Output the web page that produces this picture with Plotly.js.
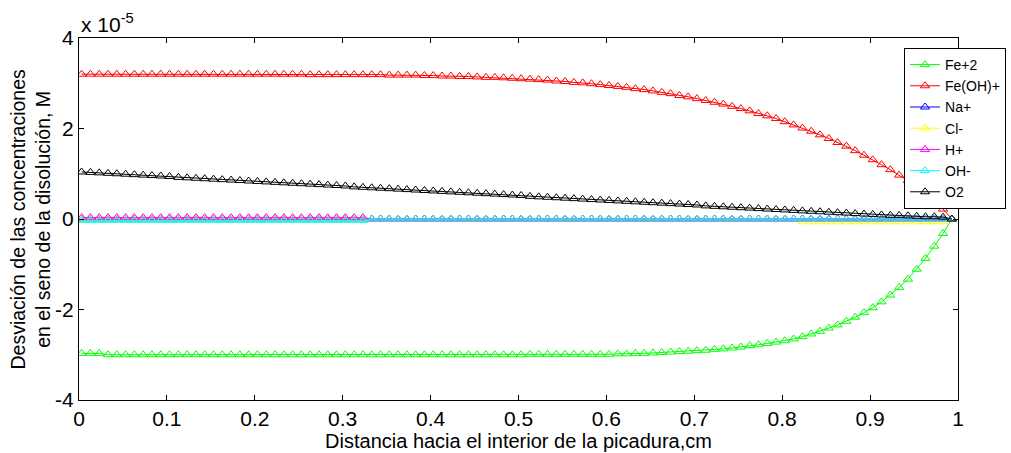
<!DOCTYPE html>
<html>
<head>
<meta charset="utf-8">
<script src="https://cdn.plot.ly/plotly-3.0.1.min.js"></script>
<style>
  html, body { margin: 0; padding: 0; background: #fff; }
  #chart { width: 1011px; height: 453px; }
</style>
</head>
<body>
<div id="chart"></div>
<script>
// Position along the pit (cm)
const distancia = [
  0.003,0.013,0.023,0.033,0.043,0.053,0.063,0.073,0.083,0.093,
  0.103,0.113,0.123,0.133,0.143,0.153,0.163,0.173,0.183,0.193,
  0.203,0.213,0.223,0.233,0.243,0.253,0.263,0.273,0.283,0.293,
  0.303,0.313,0.323,0.333,0.343,0.353,0.363,0.373,0.383,0.393,
  0.403,0.413,0.423,0.433,0.443,0.453,0.463,0.473,0.483,0.493,
  0.503,0.513,0.523,0.533,0.543,0.553,0.563,0.573,0.583,0.593,
  0.603,0.613,0.623,0.633,0.643,0.653,0.663,0.673,0.683,0.693,
  0.703,0.713,0.723,0.733,0.743,0.753,0.763,0.773,0.783,0.793,
  0.803,0.813,0.823,0.833,0.843,0.853,0.863,0.873,0.883,0.893,
  0.903,0.913,0.923,0.933,0.943,0.953,0.963,0.973,0.983,0.993
];

// Concentration deviations, in units of 1e-5 M
const fe2 = [
  -2.97,-2.97,-2.97,-3.00,-3.00,-3.00,-3.00,-3.00,-3.00,-3.00,
  -3.00,-3.00,-3.00,-3.00,-3.00,-3.00,-3.00,-3.00,-3.00,-3.00,
  -3.00,-3.00,-3.00,-3.00,-3.00,-3.00,-3.00,-3.00,-3.00,-3.00,
  -3.00,-3.00,-3.00,-3.00,-3.00,-3.00,-3.00,-3.00,-3.00,-3.00,
  -3.00,-3.00,-3.00,-3.00,-3.00,-3.00,-3.00,-3.00,-3.00,-3.00,
  -3.00,-2.99,-2.99,-2.99,-2.99,-2.99,-2.99,-2.99,-2.99,-2.99,
  -2.99,-2.98,-2.98,-2.97,-2.97,-2.96,-2.95,-2.94,-2.93,-2.92,
  -2.91,-2.90,-2.88,-2.87,-2.85,-2.83,-2.80,-2.78,-2.75,-2.72,
  -2.69,-2.65,-2.60,-2.54,-2.48,-2.41,-2.34,-2.26,-2.17,-2.07,
  -1.96,-1.83,-1.68,-1.51,-1.33,-1.11,-0.87,-0.60,-0.32,0.00
];
const feoh = [
  3.20,3.20,3.20,3.20,3.20,3.20,3.20,3.20,3.20,3.20,
  3.20,3.20,3.20,3.20,3.20,3.20,3.20,3.20,3.20,3.20,
  3.20,3.20,3.20,3.20,3.20,3.20,3.19,3.19,3.19,3.19,
  3.19,3.19,3.19,3.19,3.19,3.18,3.18,3.18,3.18,3.17,
  3.17,3.16,3.16,3.15,3.15,3.14,3.13,3.13,3.12,3.11,
  3.10,3.09,3.08,3.07,3.05,3.04,3.02,3.01,2.99,2.97,
  2.95,2.93,2.91,2.88,2.86,2.83,2.80,2.77,2.73,2.70,
  2.66,2.62,2.58,2.54,2.49,2.44,2.39,2.33,2.28,2.22,
  2.15,2.08,2.01,1.94,1.86,1.78,1.69,1.61,1.51,1.41,
  1.31,1.20,1.09,0.97,0.85,0.72,0.59,0.45,0.22,0.00
];
const na = [
  0,0,0,0,0,0,0,0,0,0, 0,0,0,0,0,0,0,0,0,0,
  0,0,0,0,0,0,0,0,0,0, 0,0,0,0,0,0,0,0,0,0,
  0,0,0,0,0,0,0,0,0,0, 0,0,0,0,0,0,0,0,0,0,
  0,0,0,0,0,0,0,0,0,0, 0,0,0,0,0,0,0,0,0,0,
  0,0,0,0,0,0,0,0,0,0, 0,0,0,0,0,0,0,0,0,0
];
const cl = [
  0,0,0,0,0,0,0,0,0,0, 0,0,0,0,0,0,0,0,0,0,
  0,0,0,0,0,0,0,0,0,0, 0,0,0,0,0,0,0,0,0,0,
  0,0,0,0,0,0,0,0,0,0, 0,0,0,0,0,0,0,0,0,0,
  0,0,0,0,0,0,0,0,0,0, 0,0,0,0,0,0,0,0,0,0,
  0,0,-0.06,-0.06,-0.06,-0.06,-0.06,-0.06,-0.06,-0.06,
  -0.06,-0.06,-0.06,-0.06,-0.06,-0.06,-0.06,-0.06,-0.06,0
];
const h = [
  0.03,0.03,0.03,0.03,0.03,0.03,0.03,0.03,0.03,0.03,
  0.03,0.03,0.03,0.03,0.03,0.03,0.03,0.03,0.03,0.03,
  0.03,0.03,0.03,0.03,0.03,0.03,0.03,0.03,0.03,0.03,
  0.03,0.03,0.03,0,0,0,0,0,0,0,
  0,0,0,0,0,0,0,0,0,0, 0,0,0,0,0,0,0,0,0,0,
  0,0,0,0,0,0,0,0,0,0, 0,0,0,0,0,0,0,0,0,0,
  0,0,0,0,0,0,0,0,0,0, 0,0,0,0,0,0,0,0,0,0
];
const oh = [
  -0.03,-0.03,-0.03,-0.03,-0.03,-0.03,-0.03,-0.03,-0.03,-0.03,
  -0.03,-0.03,-0.03,-0.03,-0.03,-0.03,-0.03,-0.03,-0.03,-0.03,
  -0.03,-0.03,-0.03,-0.03,-0.03,-0.03,-0.03,-0.03,-0.03,-0.03,
  -0.03,-0.03,-0.03,0,0,0,0,0,0,0,
  0,0,0,0,0,0,0,0,0,0, 0,0,0,0,0,0,0,0,0,0,
  0,0,0,0,0,0,0,0,0,0, 0,0,0,0,0,0,0,0,0,0,
  0,0,0,0,0,0,0,0,0,0, 0,0,0,0,0,0,0,0,0,0
];
const o2 = [
  1.04,1.03,1.02,1.01,1.00,0.99,0.98,0.97,0.96,0.95,
  0.94,0.92,0.91,0.90,0.89,0.88,0.87,0.86,0.85,0.84,
  0.83,0.82,0.81,0.80,0.79,0.78,0.77,0.76,0.75,0.74,
  0.73,0.71,0.70,0.69,0.68,0.67,0.66,0.65,0.64,0.63,
  0.62,0.61,0.60,0.59,0.58,0.57,0.56,0.55,0.54,0.53,
  0.52,0.50,0.49,0.48,0.47,0.46,0.45,0.44,0.43,0.42,
  0.41,0.40,0.39,0.38,0.37,0.36,0.35,0.34,0.33,0.32,
  0.31,0.29,0.28,0.27,0.26,0.25,0.24,0.23,0.22,0.21,
  0.20,0.19,0.18,0.17,0.16,0.15,0.14,0.13,0.12,0.11,
  0.10,0.09,0.08,0.08,0.07,0.06,0.05,0.05,0.04,0.00
];

const especies = ['Fe+2', 'Fe(OH)+', 'Na+', 'Cl-', 'H+', 'OH-', 'O2'];
const valores = [fe2, feoh, na, cl, h, oh, o2];
const colores = ['#00ff00', '#ff0000', '#0000ff', '#ffff00', '#ff00ff', '#00ffff', '#000000'];

const xTicks = [0, 0.1, 0.2, 0.3, 0.4, 0.5, 0.6, 0.7, 0.8, 0.9, 1];
const yTicks = [-4, -2, 0, 2, 4];

const FONT = 'Arial, "Liberation Sans", Helvetica, sans-serif';

const traces = especies.map((name, k) => ({
  type: 'scatter',
  mode: 'lines+markers',
  name: name,
  x: distancia,
  y: valores[k],
  line: { color: colores[k], width: 1 },
  marker: { symbol: 'triangle-up-open', size: 8, color: colores[k], line: { width: 1, color: colores[k] } }
}));

const axisCommon = {
  showline: true, linecolor: '#000', linewidth: 1, mirror: 'ticks',
  ticks: 'inside', ticklen: 5, tickwidth: 1, tickcolor: '#000',
  showgrid: false, zeroline: false,
  tickfont: { family: FONT, size: 21, color: '#000' }
};

const layout = {
  width: 1011, height: 453,
  margin: { l: 79, r: 53, t: 38, b: 53, autoexpand: false },
  paper_bgcolor: '#fff', plot_bgcolor: '#fff',
  showlegend: true,
  xaxis: Object.assign({}, axisCommon, {
    range: [0, 1], tickvals: xTicks, ticktext: xTicks.map(String),
    title: { text: 'Distancia hacia el interior de la picadura,cm', font: { family: FONT, size: 20, color: '#000' }, standoff: 0 }
  }),
  yaxis: Object.assign({}, axisCommon, {
    range: [-4, 4], tickvals: yTicks, ticktext: yTicks.map(String), ticklabelstandoff: 0
  }),
  legend: {
    x: 0.9386, y: 0.9724, xanchor: 'left', yanchor: 'top',
    bgcolor: '#fff', bordercolor: '#000', borderwidth: 1,
    font: { family: FONT, size: 14, color: '#000' },
    tracegroupgap: 0
  },
  annotations: [
    {
      xref: 'paper', yref: 'paper', x: 0, y: 1, xanchor: 'left', yanchor: 'bottom',
      text: 'x 10<sup>-5</sup>', showarrow: false,
      font: { family: FONT, size: 21, color: '#000' }
    },
    {
      // y-axis title, two lines, placed left of the tick labels
      xref: 'paper', yref: 'paper', x: 0, y: 0.5, xanchor: 'right', yanchor: 'middle',
      xshift: -24, textangle: -90, showarrow: false,
      text: 'Desviación de las concentraciones<br>en el seno de la disolución, M',
      font: { family: FONT, size: 19.5, color: '#000' }
    }
  ]
};

Plotly.newPlot('chart', traces, layout, { displayModeBar: false, staticPlot: true });
</script>
</body>
</html>
